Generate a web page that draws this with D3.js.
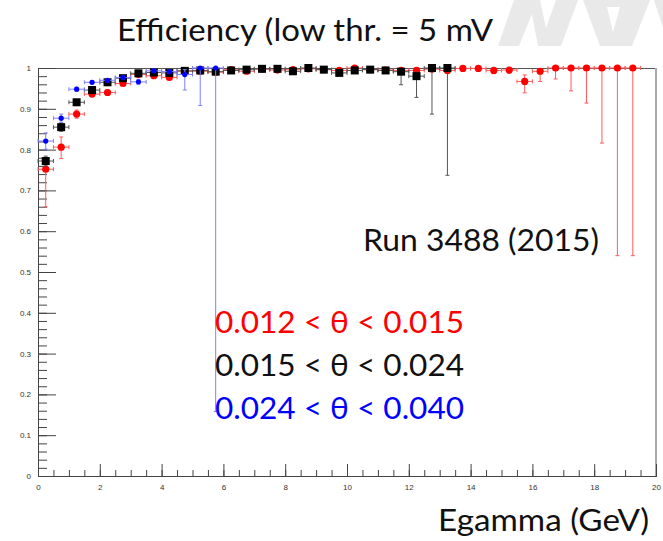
<!DOCTYPE html>
<html>
<head>
<meta charset="utf-8">
<script src="https://cdn.jsdelivr.net/npm/d3@7/dist/d3.min.js"></script>
<style>
    body { margin: 0; background: #fff; }
    svg { display: block; }
</style>
</head>
<body>
<div id="chart"></div>
<script>
// bin centres (GeV), bins are 0.5 GeV wide
const binCenters = [0.25, 0.75, 1.25, 1.75, 2.25, 2.75, 3.25, 3.75, 4.25, 4.75,
    5.25, 5.75, 6.25, 6.75, 7.25, 7.75, 8.25, 8.75, 9.25, 9.75,
    10.25, 10.75, 11.25, 11.75, 12.25, 12.75, 13.25, 13.75, 14.25, 14.75,
    15.25, 15.75, 16.25, 16.75, 17.25, 17.75, 18.25, 18.75, 19.25];
const binHalfWidth = 0.25;

// 0.012 < theta < 0.015
const redEff = [0.752, 0.806, 0.887, 0.936, 0.940, 0.962, 0.984, 0.981, 0.977, 0.992,
    0.992, 0.990, 0.996, 0.992, 0.997, 0.995, 0.996, 0.998, 0.996, 0.994,
    1.000, 0.996, 0.995, 0.994, 0.994, 0.997, 0.994, 0.999, 0.999, 0.994,
    0.995, 0.967, 0.992, 1.000, 1.000, 1.000, 1.000, 1.000, 1.000];
const redErrLo = [0.092, 0.028, 0.010, 0.006, 0.006, 0.005, 0.004, 0.004, 0.005, 0.004,
    0.004, 0.004, 0.003, 0.003, 0.003, 0.003, 0.003, 0.003, 0.003, 0.003,
    0.003, 0.003, 0.004, 0.004, 0.006, 0.005, 0.006, 0.004, 0.004, 0.008,
    0.008, 0.028, 0.025, 0.027, 0.056, 0.086, 0.184, 0.460, 0.460];
const redErrHi = [0.015, 0.025, 0.010, 0.006, 0.006, 0.005, 0.004, 0.004, 0.005, 0.004,
    0.004, 0.004, 0.003, 0.003, 0.002, 0.003, 0.003, 0.002, 0.003, 0.003,
    0.000, 0.003, 0.004, 0.004, 0.005, 0.003, 0.005, 0.001, 0.001, 0.005,
    0.004, 0.016, 0.005, 0.000, 0.000, 0.000, 0.000, 0.000, 0.000];

// 0.015 < theta < 0.024
const blackEff = [0.772, 0.855, 0.916, 0.946, 0.965, 0.975, 0.987, 0.989, 0.988, 0.993,
    0.994, 0.991, 0.994, 0.996, 0.998, 0.998, 0.992, 1.000, 0.996, 0.988,
    0.994, 0.996, 0.994, 0.991, 0.980, 1.000, 1.000];
const blackErrLo = [0.012, 0.010, 0.006, 0.005, 0.004, 0.004, 0.003, 0.003, 0.003, 0.003,
    0.003, 0.003, 0.003, 0.003, 0.002, 0.002, 0.004, 0.003, 0.003, 0.006,
    0.004, 0.004, 0.005, 0.032, 0.052, 0.113, 0.263];
const blackErrHi = [0.012, 0.010, 0.006, 0.005, 0.004, 0.004, 0.003, 0.003, 0.003, 0.003,
    0.003, 0.003, 0.003, 0.003, 0.002, 0.002, 0.004, 0.000, 0.003, 0.005,
    0.004, 0.003, 0.004, 0.006, 0.010, 0.000, 0.000];

// 0.024 < theta < 0.040
const blueEff = [0.821, 0.877, 0.948, 0.965, 0.970, 0.977, 0.966, 0.993, 0.991, 0.984,
    1.000, 1.000];
const blueErrLo = [0.020, 0.010, 0.005, 0.004, 0.004, 0.004, 0.006, 0.004, 0.004, 0.038,
    0.092, 0.842];
const blueErrHi = [0.020, 0.010, 0.005, 0.004, 0.004, 0.004, 0.006, 0.004, 0.004, 0.012,
    0.000, 0.000];

const xTickValues = [0, 2, 4, 6, 8, 10, 12, 14, 16, 18, 20];
const yTickValues = [0, 0.1, 0.2, 0.3, 0.4, 0.5, 0.6, 0.7, 0.8, 0.9, 1];
const yTickLabels = ['0', '0.1', '0.2', '0.3', '0.4', '0.5', '0.6', '0.7', '0.8', '0.9', '1'];
const legendLabels = ['0.012 < θ < 0.015', '0.015 < θ < 0.024', '0.024 < θ < 0.040'];
const seriesColors = ['#ff0000', '#000000', '#0000ff'];

const series = [
    { eff: redEff, lo: redErrLo, hi: redErrHi, color: '#ff0000', bar: '#ff5a5a', marker: 'circle', size: 3.6 },
    { eff: blackEff, lo: blackErrLo, hi: blackErrHi, color: '#000000', bar: '#555555', marker: 'square', size: 8 },
    { eff: blueEff, lo: blueErrLo, hi: blueErrHi, color: '#0000ff', bar: '#8080ff', marker: 'circle', size: 2.6 },
];

const W = 663, H = 541;
const frame = { left: 38, right: 656, top: 68, bottom: 476 };

const svg = d3.select('#chart').append('svg')
    .attr('width', W)
    .attr('height', H);

// light grey shapes of the slide background at the top right
const bg = svg.append('g').attr('fill', '#e9e9e9');
bg.append('path').attr('d', 'M498,46 L519,46 L532,14 L538,46 L561,46 L578,0 L556,0 L546,28 L540,0 L514,0 Z');
bg.append('path').attr('d', 'M583,0 L650,0 L632,46 L600,46 Z');
bg.append('path').attr('d', 'M607,7 L620,7 L613,32 Z').attr('fill', '#fff');
bg.append('path').attr('d', 'M654,0 L663,0 L663,28 Z');

const x = d3.scaleLinear().domain([0, 20]).range([frame.left, frame.right]);
const y = d3.scaleLinear().domain([0, 1]).range([frame.bottom, frame.top]);

// frame top and right
svg.append('line')
    .attr('x1', frame.left).attr('x2', frame.right)
    .attr('y1', frame.top + 0.5).attr('y2', frame.top + 0.5)
    .attr('stroke', '#555').attr('stroke-width', 1);
svg.append('line')
    .attr('x1', frame.right).attr('x2', frame.right)
    .attr('y1', frame.top).attr('y2', frame.bottom)
    .attr('stroke', '#aaa').attr('stroke-width', 2);

// axes (ROOT style, ticks pointing inside)
const tickFont = (g) => g.selectAll('text')
    .attr('font-family', 'Liberation Sans, Arial, sans-serif')
    .attr('font-size', 8)
    .attr('fill', '#333');

const xMinor = svg.append('g')
    .attr('transform', `translate(0,${frame.bottom})`)
    .call(d3.axisBottom(x).tickValues(d3.range(0, 20.01, 0.5)).tickSize(-6).tickFormat(''));
const xMajor = svg.append('g')
    .attr('transform', `translate(0,${frame.bottom})`)
    .call(d3.axisBottom(x).tickValues(xTickValues).tickSize(-12).tickPadding(8).tickFormat(d3.format('d')))
    .call(tickFont);

const yMinor = svg.append('g')
    .attr('transform', `translate(${frame.left},0)`)
    .call(d3.axisLeft(y).tickValues(d3.range(0, 1.001, 0.02)).tickSize(-9).tickFormat(''));
const yMajor = svg.append('g')
    .attr('transform', `translate(${frame.left},0)`)
    .call(d3.axisLeft(y).tickValues(yTickValues).tickSize(-18).tickPadding(7)
        .tickFormat((d, i) => yTickLabels[i]))
    .call(tickFont);

[xMinor, xMajor, yMinor, yMajor].forEach(g => {
    g.selectAll('.domain').attr('stroke', '#444');
    g.selectAll('.tick line').attr('stroke', '#444');
});

// error bars and markers
const plot = svg.append('g');
const cap = 2;

series.forEach(s => {
    const pts = s.eff.map((e, i) => ({
        c: binCenters[i], e, lo: e - s.lo[i], hi: Math.min(1, e + s.hi[i]),
    }));
    const g = plot.append('g')
        .attr('stroke', s.bar)
        .attr('stroke-width', 1)
        .attr('fill', 'none');

    const bars = g.selectAll('g.pt').data(pts).enter().append('g').attr('class', 'pt');

    // horizontal bars (bin width)
    bars.append('line')
        .attr('x1', d => x(d.c - binHalfWidth)).attr('x2', d => x(d.c + binHalfWidth))
        .attr('y1', d => y(d.e)).attr('y2', d => y(d.e));
    bars.append('line')
        .attr('x1', d => x(d.c - binHalfWidth)).attr('x2', d => x(d.c - binHalfWidth))
        .attr('y1', d => y(d.e) - cap).attr('y2', d => y(d.e) + cap);
    bars.append('line')
        .attr('x1', d => x(d.c + binHalfWidth)).attr('x2', d => x(d.c + binHalfWidth))
        .attr('y1', d => y(d.e) - cap).attr('y2', d => y(d.e) + cap);

    // vertical bars
    bars.append('line')
        .attr('x1', d => x(d.c)).attr('x2', d => x(d.c))
        .attr('y1', d => y(d.lo)).attr('y2', d => y(d.hi));
    bars.append('line')
        .attr('x1', d => x(d.c) - cap).attr('x2', d => x(d.c) + cap)
        .attr('y1', d => y(d.lo)).attr('y2', d => y(d.lo));
    bars.filter(d => d.hi > d.e).append('line')
        .attr('x1', d => x(d.c) - cap).attr('x2', d => x(d.c) + cap)
        .attr('y1', d => y(d.hi)).attr('y2', d => y(d.hi));

    if (s.marker === 'square') {
        plot.append('g').selectAll('rect').data(pts).enter().append('rect')
            .attr('x', d => x(d.c) - s.size / 2)
            .attr('y', d => y(d.e) - s.size / 2)
            .attr('width', s.size).attr('height', s.size)
            .attr('fill', s.color);
    } else {
        plot.append('g').selectAll('circle').data(pts).enter().append('circle')
            .attr('cx', d => x(d.c))
            .attr('cy', d => y(d.e))
            .attr('r', s.size)
            .attr('fill', s.color);
    }
});

// texts
const textFont = 'Lato, "Open Sans", sans-serif';

svg.append('text')
    .attr('x', 117).attr('y', 41)
    .attr('font-family', textFont).attr('font-size', 30)
    .attr('textLength', 376).attr('lengthAdjust', 'spacingAndGlyphs')
    .attr('fill', '#111')
    .text('Efficiency (low thr. = 5 mV');

svg.append('text')
    .attr('x', 363).attr('y', 251)
    .attr('font-family', textFont).attr('font-size', 30)
    .attr('textLength', 236).attr('lengthAdjust', 'spacingAndGlyphs')
    .attr('fill', '#111')
    .text('Run 3488 (2015)');

svg.append('g').selectAll('text').data(legendLabels).enter().append('text')
    .attr('x', 215)
    .attr('y', (d, i) => 333 + i * 43)
    .attr('font-family', textFont).attr('font-size', 31)
    .attr('textLength', 249).attr('lengthAdjust', 'spacingAndGlyphs')
    .attr('fill', (d, i) => seriesColors[i] === '#000000' ? '#111' : seriesColors[i])
    .text(d => d);

svg.append('text')
    .attr('x', 438).attr('y', 531)
    .attr('font-family', textFont).attr('font-size', 30)
    .attr('textLength', 211).attr('lengthAdjust', 'spacingAndGlyphs')
    .attr('fill', '#111')
    .text('Egamma (GeV)');
</script>
</body>
</html>
